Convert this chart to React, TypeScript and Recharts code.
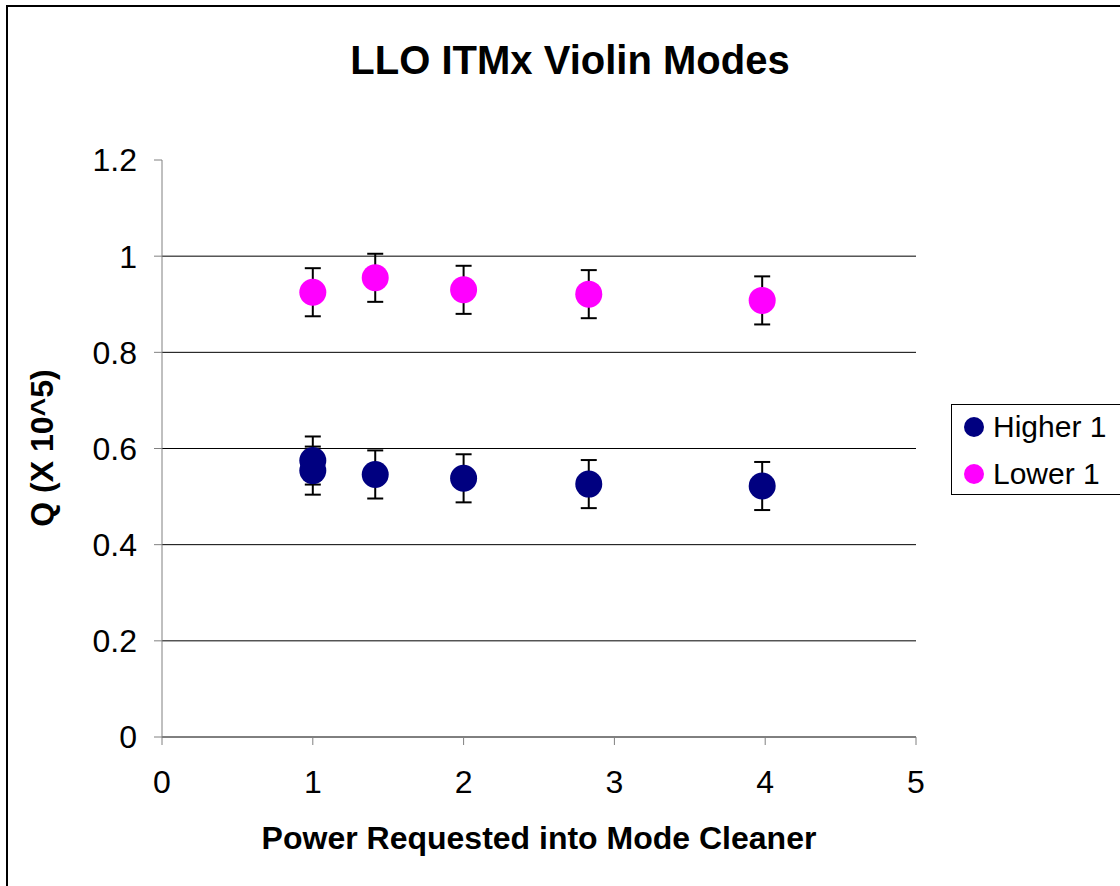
import React from "react";
import {
  ScatterChart,
  Scatter,
  XAxis,
  YAxis,
  CartesianGrid,
  ErrorBar,
} from "recharts";

// power requested into the mode cleaner (W) and measured Q (x 10^5)
const POWER_HIGHER = [1, 1, 1.414, 2, 2.83, 3.98];
const Q_HIGHER = [0.575, 0.554, 0.546, 0.538, 0.526, 0.522];
const ERR_HIGHER = [0.05, 0.05, 0.05, 0.05, 0.05, 0.05];

const POWER_LOWER = [1, 1.414, 2, 2.83, 3.98];
const Q_LOWER = [0.925, 0.955, 0.93, 0.921, 0.908];
const ERR_LOWER = [0.05, 0.05, 0.05, 0.05, 0.05];

const X_TICKS = [0, 1, 2, 3, 4, 5];
const Y_TICKS = [0, 0.2, 0.4, 0.6, 0.8, 1.0, 1.2];
const GRID_LINES = [0, 0.2, 0.4, 0.6, 0.8, 1.0];

const SERIES = [
  { name: "Higher 1", color: "#000080" },
  { name: "Lower 1", color: "#FF00FF" },
];

const FONT = "'Liberation Sans', Arial, sans-serif";

const higher = POWER_HIGHER.map((p, i) => ({ p, q: Q_HIGHER[i], err: ERR_HIGHER[i] }));
const lower = POWER_LOWER.map((p, i) => ({ p, q: Q_LOWER[i], err: ERR_LOWER[i] }));

const dot = (color: string) => (props: any) =>
  <circle cx={props.cx} cy={props.cy} r={13.5} fill={color} />;

const fmtY = (v: number) => (v === 0 || v === 1 ? String(v) : v.toFixed(1));

function LegendBox() {
  return (
    <div
      style={{
        position: "absolute",
        left: 951,
        top: 404,
        width: 200,
        height: 91,
        border: "1px solid #000",
        background: "#fff",
        boxSizing: "border-box",
        fontFamily: FONT,
        fontSize: 30,
      }}
    >
      {SERIES.map((s, i) => (
        <div
          key={s.name}
          style={{
            position: "absolute",
            left: 0,
            top: 2 + i * 47,
            height: 40,
            display: "flex",
            alignItems: "center",
            whiteSpace: "nowrap",
          }}
        >
          <svg width={41} height={40}>
            <circle cx={22} cy={20} r={10} fill={s.color} />
          </svg>
          <span>{s.name}</span>
        </div>
      ))}
    </div>
  );
}

export default function App() {
  return (
    <div
      style={{
        position: "absolute",
        left: 0,
        top: 0,
        width: 1120,
        height: 886,
        overflow: "hidden",
        background: "#fff",
        fontFamily: FONT,
      }}
    >
      <div
        style={{
          position: "absolute",
          left: 6,
          top: 5,
          width: 1200,
          height: 1000,
          border: "2px solid #000",
        }}
      />
      <div
        style={{
          position: "absolute",
          left: 0,
          width: 1140,
          top: 38,
          textAlign: "center",
          fontWeight: "bold",
          fontSize: 40,
        }}
      >
        LLO ITMx Violin Modes
      </div>
      <div
        style={{
          position: "absolute",
          left: 162,
          width: 754,
          top: 820,
          textAlign: "center",
          fontWeight: "bold",
          fontSize: 32,
        }}
      >
        Power Requested into Mode Cleaner
      </div>
      <div
        style={{
          position: "absolute",
          left: 42,
          top: 448,
          transform: "translate(-50%, -50%) rotate(-90deg)",
          whiteSpace: "nowrap",
          fontWeight: "bold",
          fontSize: 32,
        }}
      >
        Q (X 10^5)
      </div>
      <ScatterChart
        width={1120}
        height={886}
        margin={{ top: 160, right: 204, bottom: 0, left: 0 }}
        style={{ position: "absolute", left: 0, top: 0 }}
      >
        <CartesianGrid
          horizontal
          vertical={false}
          stroke="#000"
          horizontalValues={GRID_LINES}
        />
        <XAxis
          type="number"
          dataKey="p"
          domain={[0, 5]}
          ticks={X_TICKS}
          interval={0}
          height={149}
          axisLine={{ stroke: "#808080" }}
          tickLine={{ stroke: "#808080" }}
          tickSize={8}
          tickMargin={25}
          tick={{ fill: "#000", fontSize: 32, fontFamily: FONT }}
        />
        <YAxis
          type="number"
          dataKey="q"
          domain={[0, 1.2]}
          ticks={Y_TICKS}
          interval={0}
          width={162}
          axisLine={{ stroke: "#808080" }}
          tickLine={{ stroke: "#808080" }}
          tickSize={8}
          tickMargin={17}
          tickFormatter={fmtY}
          tick={{ fill: "#000", fontSize: 32, fontFamily: FONT }}
        />
        <Scatter
          name={SERIES[0].name}
          data={higher}
          fill={SERIES[0].color}
          shape={dot(SERIES[0].color)}
          isAnimationActive={false}
        >
          <ErrorBar dataKey="err" direction="y" width={8} stroke="#000" strokeWidth={2} />
        </Scatter>
        <Scatter
          name={SERIES[1].name}
          data={lower}
          fill={SERIES[1].color}
          shape={dot(SERIES[1].color)}
          isAnimationActive={false}
        >
          <ErrorBar dataKey="err" direction="y" width={8} stroke="#000" strokeWidth={2} />
        </Scatter>
      </ScatterChart>
      <LegendBox />
    </div>
  );
}
